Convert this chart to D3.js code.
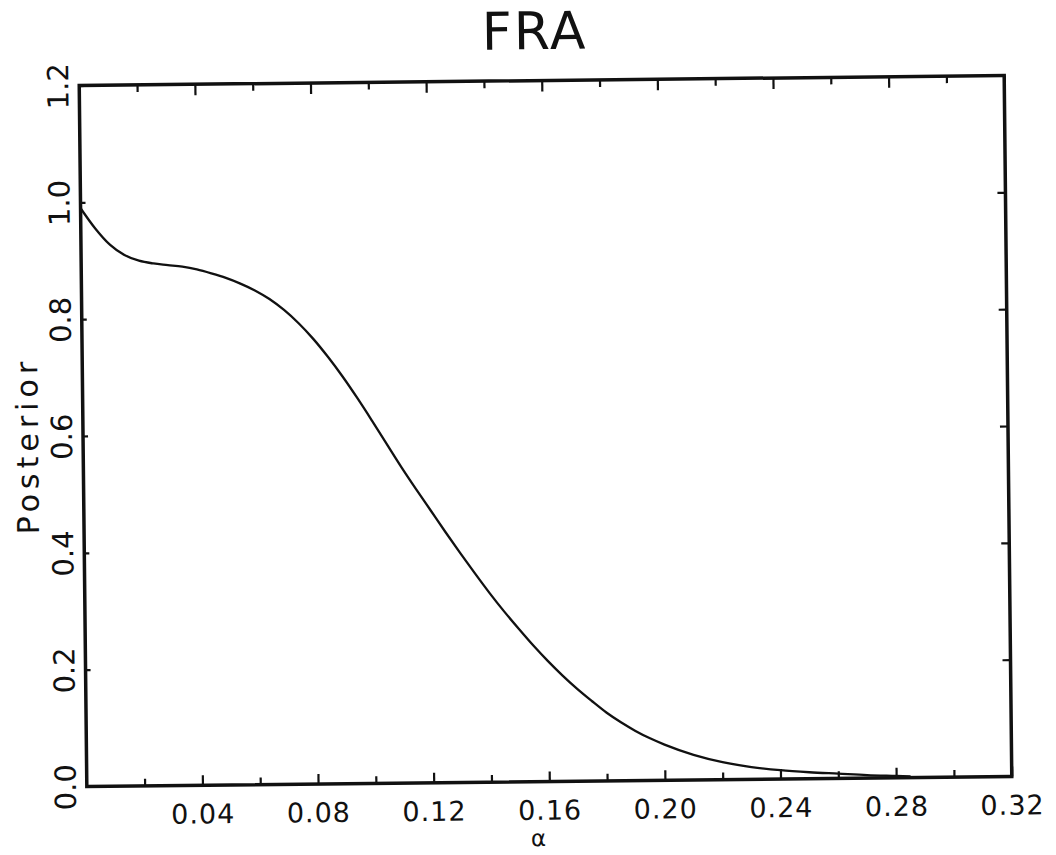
<!DOCTYPE html>
<html>
<head>
<meta charset="utf-8">
<script src="https://cdn.jsdelivr.net/npm/d3@7"></script>
<style>
  html, body { margin: 0; padding: 0; background: #fff; }
  svg text { font-family: "DejaVu Sans", sans-serif; fill: #111; }
</style>
</head>
<body>
<svg id="chart" width="1056" height="855"></svg>
<script>
// ---- data ----
const alpha = [0.0, 0.005, 0.01, 0.015, 0.02, 0.025, 0.03, 0.035, 0.04, 0.045,
  0.05, 0.055, 0.06, 0.065, 0.07, 0.075, 0.08, 0.085, 0.09, 0.095,
  0.10, 0.105, 0.11, 0.115, 0.12, 0.125, 0.13, 0.135, 0.14, 0.145,
  0.15, 0.155, 0.16, 0.165, 0.17, 0.175, 0.18, 0.185, 0.19, 0.195,
  0.20, 0.21, 0.22, 0.23, 0.24, 0.25, 0.26, 0.27, 0.28, 0.285];
const posterior = [0.99, 0.955, 0.927, 0.909, 0.899, 0.894, 0.891, 0.888, 0.883, 0.876,
  0.868, 0.858, 0.846, 0.831, 0.812, 0.789, 0.762, 0.731, 0.697, 0.660,
  0.621, 0.581, 0.541, 0.503, 0.466, 0.429, 0.393, 0.358, 0.324, 0.292,
  0.262, 0.233, 0.206, 0.181, 0.158, 0.137, 0.117, 0.100, 0.085, 0.072,
  0.061, 0.043, 0.030, 0.021, 0.015, 0.011, 0.008, 0.005, 0.003, 0.002];
const xMajorTicks = [0.04, 0.08, 0.12, 0.16, 0.20, 0.24, 0.28, 0.32];
const xMajorLabels = ["0.04", "0.08", "0.12", "0.16", "0.20", "0.24", "0.28", "0.32"];
const xMinorTicks = [0.02, 0.06, 0.10, 0.14, 0.18, 0.22, 0.26, 0.30];
const yTicks = [0.0, 0.2, 0.4, 0.6, 0.8, 1.0, 1.2];
const yLabels = ["0.0", "0.2", "0.4", "0.6", "0.8", "1.0", "1.2"];
const titleText = "FRA";
const xTitle = "α";
const yTitle = "Posterior";

// ---- layout ----
const pLeft = 83, pRight = 1008, pTop = 80.5, pBottom = 781.5;
const cx = (pLeft + pRight) / 2, cy = (pTop + pBottom) / 2;

const svg = d3.select("#chart");
const root = svg.append("g").attr("transform", `rotate(-0.62, ${cx}, ${cy})`);

const x = d3.scaleLinear().domain([0, 0.32]).range([pLeft, pRight]);
const y = d3.scaleLinear().domain([0, 1.2]).range([pBottom, pTop]);

// title
root.append("text").attr("x", 539).attr("y", 49).attr("text-anchor", "middle")
  .attr("font-size", 52).attr("letter-spacing", 2).text(titleText);

// bottom axis (inward ticks)
const bMajor = root.append("g").attr("transform", `translate(0,${pBottom})`)
  .call(d3.axisBottom(x).tickValues(xMajorTicks).tickSize(-10).tickPadding(19)
    .tickFormat((d, i) => xMajorLabels[i]));
const bMinor = root.append("g").attr("transform", `translate(0,${pBottom})`)
  .call(d3.axisBottom(x).tickValues(xMinorTicks).tickSize(-7).tickFormat(""));
// top axis (inward ticks)
const tMajor = root.append("g").attr("transform", `translate(0,${pTop})`)
  .call(d3.axisTop(x).tickValues(xMajorTicks).tickSize(-11).tickFormat(""));
const tMinor = root.append("g").attr("transform", `translate(0,${pTop})`)
  .call(d3.axisTop(x).tickValues(xMinorTicks).tickSize(-7).tickFormat(""));
// left axis
const lAx = root.append("g").attr("transform", `translate(${pLeft},0)`)
  .call(d3.axisLeft(y).tickValues(yTicks).tickSize(-5).tickPadding(10)
    .tickFormat((d, i) => yLabels[i]));
// right axis
const rAx = root.append("g").attr("transform", `translate(${pRight},0)`)
  .call(d3.axisRight(y).tickValues(yTicks.slice(1, -1)).tickSize(-8).tickFormat(""));

[bMajor, bMinor, tMajor, tMinor, lAx, rAx].forEach(g => {
  g.select(".domain").remove();
  g.selectAll(".tick line").attr("stroke", "#111").attr("stroke-width", 2.2);
});
bMajor.selectAll(".tick text").attr("font-size", 27).attr("letter-spacing", 1)
  .attr("font-family", "DejaVu Sans").attr("fill", "#111");
lAx.selectAll(".tick text")
  .attr("font-size", 29).attr("font-family", "DejaVu Sans").attr("fill", "#111")
  .attr("text-anchor", "middle").attr("dy", null)
  .attr("x", null)
  .attr("transform", "translate(-11,0) rotate(-90)");

// frame
root.append("rect").attr("x", pLeft).attr("y", pTop)
  .attr("width", pRight - pLeft).attr("height", pBottom - pTop)
  .attr("fill", "none").attr("stroke", "#111").attr("stroke-width", 3.5);

// curve
const pts = alpha.map((a, i) => [a, posterior[i]]);
root.append("path").datum(pts)
  .attr("fill", "none").attr("stroke", "#111").attr("stroke-width", 2.3)
  .attr("d", d3.line().x(d => x(d[0])).y(d => y(d[1])).curve(d3.curveMonotoneX));

// axis titles
root.append("text").attr("x", 534).attr("y", 846).attr("text-anchor", "middle")
  .attr("font-size", 23).text(xTitle);
root.append("text").attr("transform", `translate(38,440) rotate(-90)`)
  .attr("text-anchor", "middle").attr("font-size", 30).attr("letter-spacing", 5)
  .text(yTitle);
</script>
</body>
</html>
